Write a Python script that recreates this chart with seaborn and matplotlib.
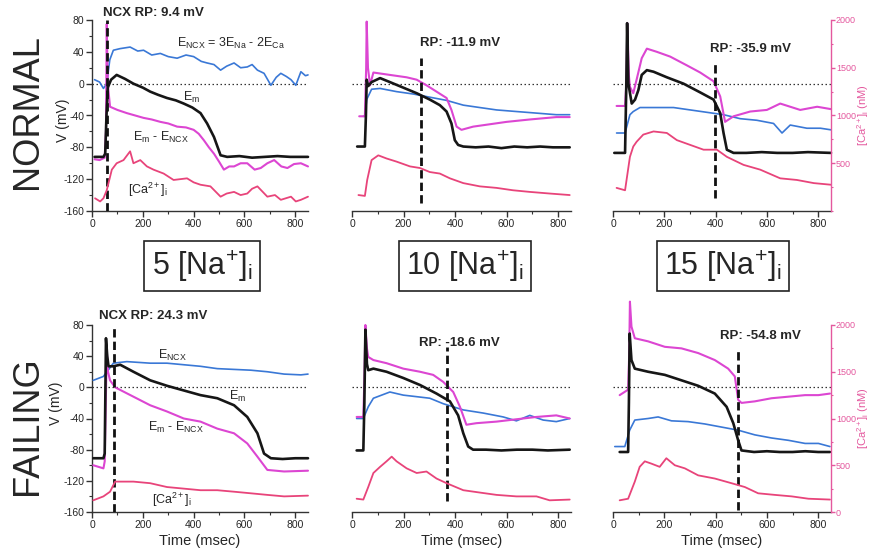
import pandas as pd
import seaborn as sns
import matplotlib.pyplot as plt
from matplotlib.ticker import MultipleLocator

# values: time in ms, voltages in mV, [Ca2+]i in nM
# NORMAL, 5 mM Na
n5_em_t = [10, 45, 52, 57, 62, 75, 97, 130, 163, 200, 229, 260, 295, 330, 361, 395, 427, 453, 480, 506, 532, 580, 630, 680, 730, 780, 850]
n5_em_v = [-92, -92, -88, -40, -5, 5, 11, 6, 0, -5, -10, -14, -18, -21, -25, -30, -37, -50, -67, -90, -92, -91, -93, -92, -91, -92, -92]
n5_ncx_t = [10, 30, 45, 58, 70, 84, 110, 150, 180, 203, 235, 269, 300, 335, 370, 400, 430, 453, 480, 506, 530, 559, 585, 611, 630, 651, 677, 704, 725, 743, 765, 783, 802, 822, 840, 850]
n5_ncx_v = [5, 2, -6, 0, 30, 42, 44, 46, 41, 42, 36, 38, 34, 32, 36, 34, 28, 26, 24, 17, 22, 26, 20, 21, 24, 17, 13, -2, 8, 13, 9, 5, -2, 15, 10, 11]
n5_diff_t = [10, 30, 50, 55, 58, 62, 71, 100, 137, 170, 203, 235, 269, 300, 335, 370, 400, 420, 440, 460, 480, 500, 519, 540, 559, 585, 611, 640, 664, 690, 717, 745, 769, 795, 822, 850]
n5_diff_v = [-95, -96, -93, -60, 75, 0, -29, -33, -37, -40, -43, -45, -48, -50, -54, -55, -58, -63, -71, -80, -88, -98, -108, -104, -104, -100, -100, -108, -106, -100, -96, -104, -106, -101, -100, -104]
n5_ca_t = [12, 32, 45, 58, 78, 97, 124, 150, 163, 190, 216, 242, 282, 321, 374, 400, 427, 466, 506, 530, 559, 585, 611, 630, 651, 690, 720, 743, 783, 802, 822, 850]
n5_ca = [133, 100, 133, 217, 433, 500, 533, 625, 500, 533, 467, 433, 392, 325, 342, 300, 275, 258, 150, 183, 200, 167, 183, 233, 258, 150, 167, 117, 150, 100, 117, 150]

# NORMAL, 10 mM Na
n10_em_t = [20, 50, 54, 57, 63, 76, 109, 147, 199, 251, 302, 341, 367, 386, 399, 412, 432, 480, 530, 580, 630, 680, 730, 780, 845]
n10_em_v = [-79, -79, -40, 5, -3, 2, 7, 2, -5, -12, -20, -27, -35, -50, -71, -77, -79, -80, -79, -81, -79, -80, -79, -80, -80]
n10_ncx_t = [44, 50, 57, 76, 109, 173, 238, 302, 367, 432, 496, 561, 638, 716, 793, 845]
n10_ncx_v = [-41, -41, -20, -7, -6, -10, -13, -17, -21, -27, -30, -33, -35, -37, -39, -39]
n10_diff_t = [28, 50, 55, 57, 62, 70, 83, 147, 212, 251, 289, 328, 367, 386, 406, 425, 470, 535, 600, 690, 793, 845]
n10_diff_v = [-41, -41, 20, 78, 20, -2, 14, 11, 8, 5, -2, -10, -18, -33, -54, -58, -54, -51, -48, -45, -42, -42]
n10_ca_t = [25, 50, 59, 76, 102, 134, 173, 225, 264, 302, 341, 380, 432, 496, 561, 625, 690, 767, 845]
n10_ca = [167, 158, 325, 533, 583, 550, 517, 467, 450, 408, 392, 342, 292, 258, 242, 217, 200, 183, 167]

# NORMAL, 15 mM Na
n15_em_t = [5, 47, 52, 55, 60, 73, 86, 99, 112, 132, 158, 210, 275, 340, 392, 418, 431, 444, 470, 520, 580, 640, 700, 760, 850]
n15_em_v = [-87, -87, 0, 76, 0, -25, -20, -8, 11, 17, 15, 8, 0, -11, -20, -37, -62, -83, -87, -87, -86, -87, -87, -86, -87]
n15_ncx_t = [14, 47, 66, 79, 105, 171, 236, 301, 366, 431, 496, 561, 626, 659, 691, 756, 809, 850]
n15_ncx_v = [-62, -62, -39, -35, -30, -30, -30, -33, -36, -39, -44, -46, -50, -62, -52, -56, -56, -58]
n15_diff_t = [14, 47, 52, 56, 62, 66, 79, 92, 112, 132, 171, 223, 288, 340, 392, 418, 437, 470, 535, 600, 652, 730, 796, 850]
n15_diff_v = [-28, -28, 0, 76, 10, -4, -12, 5, 32, 44, 40, 34, 23, 14, 3, -16, -48, -41, -35, -33, -25, -33, -29, -32]
n15_ca_t = [14, 47, 66, 79, 92, 118, 158, 210, 249, 301, 353, 405, 444, 509, 574, 652, 717, 783, 850]
n15_ca = [242, 217, 567, 675, 725, 800, 833, 817, 742, 692, 642, 642, 567, 483, 433, 342, 325, 292, 275]

# FAILING, 5 mM Na
f5_em_t = [5, 45, 50, 55, 60, 65, 84, 111, 163, 229, 295, 361, 427, 493, 559, 611, 651, 677, 704, 750, 800, 850]
f5_em_v = [-91, -91, -85, 63, 40, 27, 27, 29, 20, 9, 2, -4, -10, -14, -23, -38, -59, -85, -91, -92, -91, -91]
f5_ncx_t = [5, 45, 84, 137, 229, 295, 361, 427, 493, 559, 625, 690, 756, 822, 850]
f5_ncx_v = [9, 14, 31, 33, 31, 31, 29, 27, 24, 23, 22, 20, 17, 16, 17]
f5_diff_t = [5, 45, 50, 58, 63, 71, 91, 163, 229, 295, 361, 427, 493, 559, 611, 651, 690, 756, 850]
f5_diff_v = [-100, -104, -95, 48, 20, 9, 0, -12, -23, -31, -40, -44, -53, -59, -72, -89, -106, -108, -107]
f5_ca_t = [5, 45, 71, 91, 111, 163, 229, 295, 361, 427, 493, 559, 625, 690, 756, 850]
f5_ca = [125, 167, 217, 325, 325, 325, 308, 267, 250, 233, 233, 217, 200, 183, 167, 175]

# FAILING, 10 mM Na
f10_em_t = [18, 44, 48, 52, 58, 63, 83, 134, 199, 264, 328, 380, 412, 432, 451, 470, 520, 580, 640, 700, 760, 845]
f10_em_v = [-81, -81, -20, 74, 30, 22, 24, 20, 12, 3, -8, -18, -36, -59, -76, -80, -80, -81, -80, -80, -81, -80]
f10_ncx_t = [18, 44, 63, 83, 147, 199, 251, 302, 354, 432, 509, 587, 638, 690, 742, 793, 845]
f10_ncx_v = [-40, -40, -25, -14, -6, -10, -12, -14, -21, -29, -33, -38, -43, -36, -42, -44, -40]
f10_diff_t = [18, 44, 48, 52, 58, 63, 83, 134, 199, 264, 315, 354, 393, 419, 444, 483, 561, 638, 716, 793, 845]
f10_diff_v = [-38, -38, 10, 80, 50, 39, 35, 31, 24, 20, 16, 7, -6, -25, -48, -46, -44, -41, -38, -36, -40]
f10_ca_t = [18, 44, 63, 83, 109, 134, 154, 173, 212, 251, 289, 328, 367, 432, 496, 561, 638, 716, 767, 845]
f10_ca = [142, 133, 267, 417, 483, 542, 592, 542, 467, 417, 433, 358, 308, 233, 208, 183, 167, 167, 125, 133]

# FAILING, 15 mM Na
f15_em_t = [26, 59, 62, 65, 72, 85, 137, 202, 267, 332, 397, 443, 469, 488, 501, 550, 600, 650, 700, 750, 800, 846]
f15_em_v = [-83, -83, -20, 69, 35, 24, 20, 16, 9, 2, -8, -25, -46, -68, -81, -83, -82, -83, -83, -82, -83, -83]
f15_ncx_t = [7, 46, 65, 85, 137, 176, 228, 293, 358, 423, 488, 553, 618, 684, 749, 801, 846]
f15_ncx_v = [-76, -76, -55, -42, -40, -38, -43, -44, -47, -51, -55, -61, -65, -68, -72, -72, -76]
f15_diff_t = [26, 59, 63, 66, 72, 85, 137, 202, 267, 332, 397, 449, 475, 488, 501, 553, 618, 684, 749, 801, 846]
f15_diff_v = [-10, -3, 40, 110, 78, 63, 59, 52, 50, 44, 35, 24, 14, -16, -20, -18, -14, -12, -10, -10, -8]
f15_ca_t = [26, 59, 85, 104, 124, 150, 182, 208, 241, 280, 332, 397, 462, 514, 566, 631, 697, 762, 846]
f15_ca = [125, 142, 325, 483, 542, 517, 483, 575, 500, 467, 392, 358, 308, 267, 200, 183, 167, 142, 133]

# reversal-potential markers (time, lower/upper end in mV) and their captions
rp_time = [58, 268, 398, 85, 367, 487]
rp_low = [-160, -150, -144, -160, -146, -157]
rp_high = [80, 32, 28, 80, 52, 48]
rp_text = ['NCX RP: 9.4 mV', 'RP: -11.9 mV', 'RP: -35.9 mV',
           'NCX RP: 24.3 mV', 'RP: -18.6 mV', 'RP: -54.8 mV']
na_labels = [r'5 [Na$^{+}$]$_{\mathrm{i}}$', r'10 [Na$^{+}$]$_{\mathrm{i}}$', r'15 [Na$^{+}$]$_{\mathrm{i}}$']
row_labels = ['NORMAL', 'FAILING']

rows = []
def add(r, c, trace, t, y):
    for a, b in zip(t, y):
        rows.append((r, c, trace, a, b))

add(0, 0, 'em', n5_em_t, n5_em_v); add(0, 0, 'ncx', n5_ncx_t, n5_ncx_v)
add(0, 0, 'diff', n5_diff_t, n5_diff_v); add(0, 0, 'ca', n5_ca_t, n5_ca)
add(0, 1, 'em', n10_em_t, n10_em_v); add(0, 1, 'ncx', n10_ncx_t, n10_ncx_v)
add(0, 1, 'diff', n10_diff_t, n10_diff_v); add(0, 1, 'ca', n10_ca_t, n10_ca)
add(0, 2, 'em', n15_em_t, n15_em_v); add(0, 2, 'ncx', n15_ncx_t, n15_ncx_v)
add(0, 2, 'diff', n15_diff_t, n15_diff_v); add(0, 2, 'ca', n15_ca_t, n15_ca)
add(1, 0, 'em', f5_em_t, f5_em_v); add(1, 0, 'ncx', f5_ncx_t, f5_ncx_v)
add(1, 0, 'diff', f5_diff_t, f5_diff_v); add(1, 0, 'ca', f5_ca_t, f5_ca)
add(1, 1, 'em', f10_em_t, f10_em_v); add(1, 1, 'ncx', f10_ncx_t, f10_ncx_v)
add(1, 1, 'diff', f10_diff_t, f10_diff_v); add(1, 1, 'ca', f10_ca_t, f10_ca)
add(1, 2, 'em', f15_em_t, f15_em_v); add(1, 2, 'ncx', f15_ncx_t, f15_ncx_v)
add(1, 2, 'diff', f15_diff_t, f15_diff_v); add(1, 2, 'ca', f15_ca_t, f15_ca)
df = pd.DataFrame(rows, columns=['row', 'col', 'trace', 't', 'y'])

colors = {'em': '#161616', 'ncx': '#3a78d6', 'diff': '#dc46d2', 'ca': '#e8447a'}
widths = {'em': 1.9, 'ncx': 1.2, 'diff': 1.5, 'ca': 1.3}
axis_pink = '#e4589e'

sns.set_theme(style='ticks')
plt.rcParams['font.family'] = ['Liberation Sans', 'DejaVu Sans']
plt.rcParams['mathtext.fontset'] = 'custom'
plt.rcParams['mathtext.rm'] = 'Liberation Sans'
plt.rcParams['mathtext.it'] = 'Liberation Sans:italic'
plt.rcParams['mathtext.bf'] = 'Liberation Sans:bold'
plt.rcParams['axes.unicode_minus'] = False

W, H = 872, 558
fig = plt.figure(figsize=(W / 100, H / 100), dpi=100)

col_x = [92, 352, 613]
col_w = [216, 219, 218]
row_top = [20, 325]
row_bot = [211, 512]
rp_pos = [(43, 89), (264, 51), (379, 44), (28, 92), (260, 57), (418, 66)]

for r in range(2):
    for c in range(3):
        ax = fig.add_axes([col_x[c] / W, 1 - row_bot[r] / H, col_w[c] / W,
                           (row_bot[r] - row_top[r]) / H])
        ax2 = ax.twinx()
        ax.set_xlim(0, 850)
        ax.set_ylim(-160, 80)
        ax2.set_ylim(0, 2000)
        sub = df[(df['row'] == r) & (df['col'] == c)]

        ax.axhline(0, ls=(0, (1.2, 2)), lw=0.9, color='#333333', zorder=1)
        for name in ['ncx', 'diff', 'em']:
            sns.lineplot(data=sub[sub['trace'] == name], x='t', y='y', ax=ax,
                         color=colors[name], lw=widths[name], estimator=None,
                         sort=False, legend=False, zorder=3)
        sns.lineplot(data=sub[sub['trace'] == 'ca'], x='t', y='y', ax=ax2,
                     color=colors['ca'], lw=widths['ca'], estimator=None,
                     sort=False, legend=False)
        for ln in ax.lines + ax2.lines:
            ln.set_clip_on(False)

        k = r * 3 + c
        ax.vlines(rp_time[k], rp_low[k], rp_high[k], colors='#111111',
                  linestyles=(0, (3, 1.5)), lw=2, zorder=4)
        ax.text(rp_pos[k][0], rp_pos[k][1], rp_text[k], fontsize=9.5,
                fontweight='bold', ha='left', va='center', clip_on=False)

        # axes styling
        for s in ['top', 'right']:
            ax.spines[s].set_visible(False)
        ax.spines['bottom'].set_linewidth(1.0)
        ax.spines['bottom'].set_color('#333333')
        ax.set_xticks([0, 200, 400, 600, 800])
        ax.xaxis.set_minor_locator(MultipleLocator(100))
        ax.tick_params(axis='x', which='major', length=4, width=1, labelsize=7.5, pad=2, color='#333333')
        ax.tick_params(axis='x', which='minor', length=2, width=0.8, color='#333333')
        ax.set_xlabel('Time (msec)' if r == 1 else '', fontsize=10.5, labelpad=3)
        if c == 0:
            ax.spines['left'].set_linewidth(1.0)
            ax.spines['left'].set_color('#333333')
            ax.set_yticks([-160, -120, -80, -40, 0, 40, 80])
            ax.yaxis.set_minor_locator(MultipleLocator(20))
            ax.tick_params(axis='y', which='major', length=4, width=1, labelsize=7.5, pad=1.5, color='#333333')
            ax.tick_params(axis='y', which='minor', length=2, width=0.8, color='#333333')
            ax.set_ylabel('V (mV)', fontsize=10)
            ax.yaxis.set_label_coords(-0.1 if r == 0 else -0.134, 0.476 if r == 0 else 0.58)
        else:
            ax.spines['left'].set_visible(False)
            ax.tick_params(axis='y', which='both', left=False, labelleft=False)
            ax.set_ylabel('')

        if c == 2:
            for s in ['top', 'left', 'bottom']:
                ax2.spines[s].set_visible(False)
            ax2.spines['right'].set_color(axis_pink)
            ax2.spines['right'].set_linewidth(1.0)
            ax2.set_yticks([500, 1000, 1500, 2000] if r == 0 else [0, 500, 1000, 1500, 2000])
            ax2.yaxis.set_minor_locator(MultipleLocator(250))
            ax2.tick_params(axis='y', which='major', length=3, width=1, labelsize=6.5, pad=0.5,
                            color=axis_pink, labelcolor=axis_pink)
            ax2.tick_params(axis='y', which='minor', length=1.5, width=0.8, color=axis_pink)
            ax2.set_ylabel(r'[Ca$^{2+}$]$_{\mathrm{i}}$ (nM)', fontsize=8, color=axis_pink)
            ax2.yaxis.set_label_coords(1.112, 0.5)
        else:
            ax2.set_axis_off()

        # trace captions on the 5 mM panels
        if c == 0 and r == 0:
            ax.text(336, 51, r'E$_{\mathrm{NCX}}$ = 3E$_{\mathrm{Na}}$ - 2E$_{\mathrm{Ca}}$', fontsize=9, va='center')
            ax.text(360, -17, r'E$_{\mathrm{m}}$', fontsize=9, va='center')
            ax.text(162, -67, r'E$_{\mathrm{m}}$ - E$_{\mathrm{NCX}}$', fontsize=9, va='center')
            ax.text(142, -134, r'[Ca$^{2+}$]$_{\mathrm{i}}$', fontsize=9, va='center')
        if c == 0 and r == 1:
            ax.text(261, 41, r'E$_{\mathrm{NCX}}$', fontsize=9, va='center')
            ax.text(538, -12, r'E$_{\mathrm{m}}$', fontsize=9, va='center')
            ax.text(221, -52, r'E$_{\mathrm{m}}$ - E$_{\mathrm{NCX}}$', fontsize=9, va='center')
            ax.text(237, -145, r'[Ca$^{2+}$]$_{\mathrm{i}}$', fontsize=9, va='center')

# [Na+]i boxes between the rows
for x, lab in zip([202, 465, 723], na_labels):
    fig.text(x / W, 1 - 266 / H, lab, ha='center', va='center', fontsize=22,
             bbox=dict(boxstyle='square,pad=0.25', fc='white', ec='#222222', lw=1.2))

for y, lab in zip([112, 426], row_labels):
    fig.text(27 / W, 1 - y / H, lab, rotation=90, ha='center', va='center',
             fontsize=26)

fig.savefig('out.png', dpi=100)
